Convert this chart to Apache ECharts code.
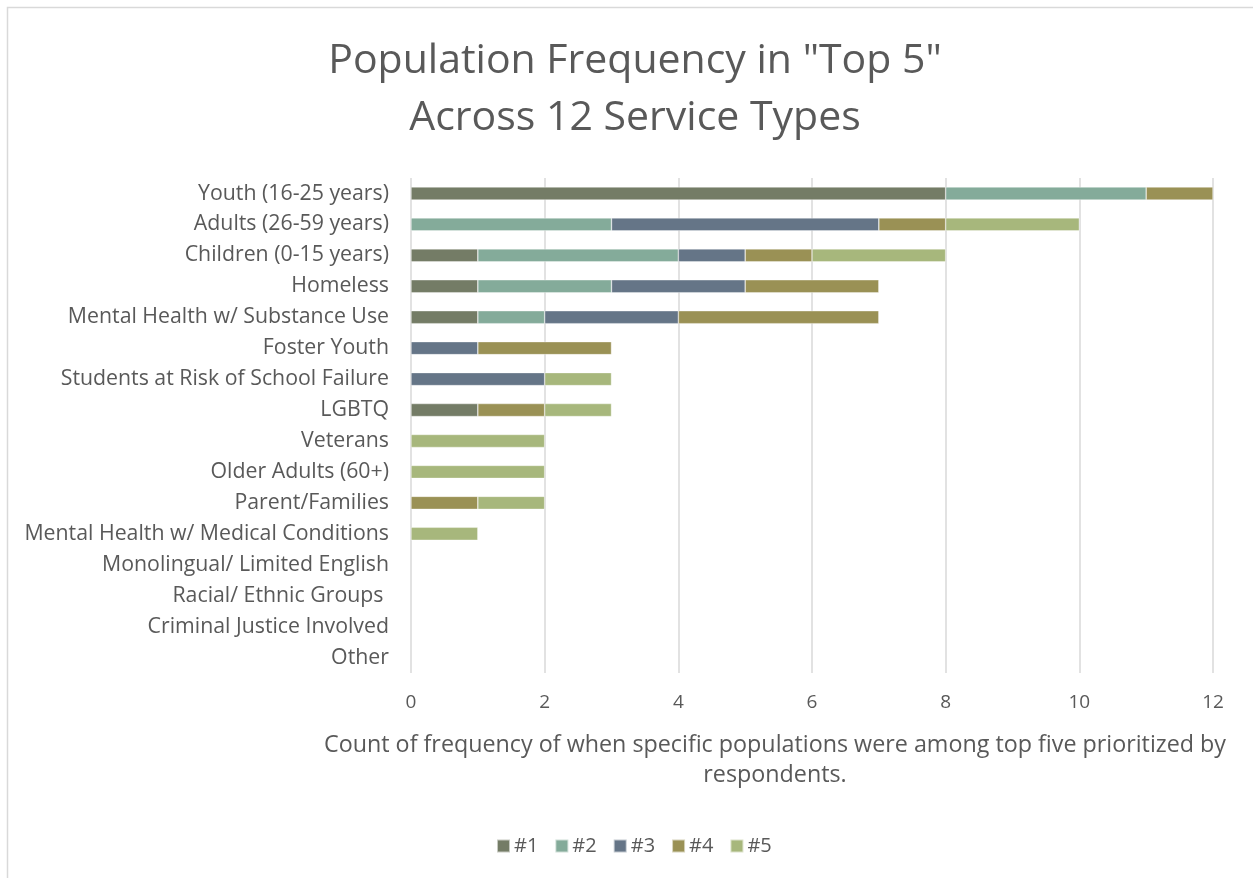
<!DOCTYPE html>
<html>
<head>
<meta charset="utf-8">
<script src="https://cdn.jsdelivr.net/npm/echarts@6/dist/echarts.min.js"></script>
<style>html,body{margin:0;padding:0;background:#fff;}#c{width:1253px;height:878px;}</style>
</head>
<body>
<div id="c"></div>
<script>
const categories = ["Youth (16-25 years)", "Adults (26-59 years)", "Children (0-15 years)", "Homeless", "Mental Health w/ Substance Use", "Foster Youth", "Students at Risk of School Failure", "LGBTQ", "Veterans", "Older Adults (60+)", "Parent/Families", "Mental Health w/ Medical Conditions", "Monolingual/ Limited English", "Racial/ Ethnic Groups ", "Criminal Justice Involved", "Other"];
const seriesNames = ["#1", "#2", "#3", "#4", "#5"];
const rank1 = [8, 0, 1, 1, 1, 0, 0, 1, 0, 0, 0, 0, 0, 0, 0, 0];
const rank2 = [3, 3, 3, 2, 1, 0, 0, 0, 0, 0, 0, 0, 0, 0, 0, 0];
const rank3 = [0, 4, 1, 2, 2, 1, 2, 0, 0, 0, 0, 0, 0, 0, 0, 0];
const rank4 = [1, 1, 1, 2, 3, 2, 0, 1, 0, 0, 1, 0, 0, 0, 0, 0];
const rank5 = [0, 2, 2, 0, 0, 0, 1, 1, 2, 2, 1, 1, 0, 0, 0, 0];
const xTicks = [0, 2, 4, 6, 8, 10, 12];
const colors = ["#747C66", "#84AB9A", "#657587", "#9A9155", "#A7B77C"];

const FONT = "Open Sans";
const all = [rank1, rank2, rank3, rank4, rank5];
const chart = echarts.init(document.getElementById('c'), null, {renderer: 'canvas'});
chart.setOption({
  animation: false,
  color: colors,
  textStyle: {fontFamily: FONT},
  title: {
    text: 'Population Frequency in "Top 5"\nAcross 12 Service Types',
    left: 630, top: 28, textAlign: 'center',
    textStyle: {fontFamily: FONT, fontSize: 41, fontWeight: 'normal', color: '#595959', lineHeight: 57}
  },
  legend: {
    data: seriesNames, bottom: 17, left: 491,
    itemWidth: 13, itemHeight: 13, itemGap: 16, icon: 'rect',
    textStyle: {fontFamily: FONT, fontSize: 20, color: '#595959', padding: [0, 0, 0, -1]}
  },
  grid: {left: 411, right: 40, top: 178, bottom: 205, containLabel: false},
  xAxis: {
    type: 'value', min: 0, max: 12, interval: 2,
    axisLine: {show: false}, axisTick: {show: false},
    axisLabel: {fontFamily: FONT, fontSize: 19, color: '#595959', margin: 20,
      formatter: v => xTicks.includes(v) ? String(v) : ''},
    splitLine: {lineStyle: {color: '#d9d9d9', width: 1.5}}
  },
  yAxis: {
    type: 'category', data: categories, inverse: true,
    axisLine: {show: false}, axisTick: {show: false},
    axisLabel: {fontFamily: FONT, fontSize: 21.3, color: '#595959', margin: 22}
  },
  series: seriesNames.map((n, i) => ({
    name: n, type: 'bar', stack: 'total', data: all[i].map(v => v === 0 ? null : v), barWidth: 13,
    itemStyle: {color: colors[i], borderColor: 'rgba(255,255,255,0.6)', borderWidth: 0.6}
  })),
  graphic: [
    {type: 'rect', shape: {x: 7.5, y: 7.5, width: 1300, height: 900}, style: {fill: 'none', stroke: '#d9d9d9', lineWidth: 1.5}, silent: true},
    {type: 'text', x: 775, y: 730, style: {
      text: 'Count of frequency of when specific populations were among top five prioritized by\nrespondents.',
      font: '23.3px "Open Sans"', fill: '#595959', align: 'center', lineHeight: 30
    }}
  ]
});
</script>
</body>
</html>
